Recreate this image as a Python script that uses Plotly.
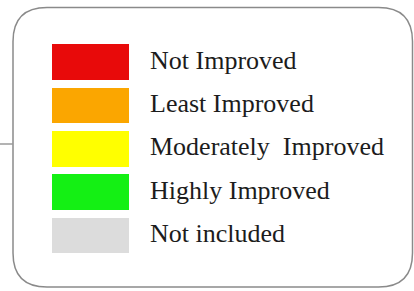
import plotly.graph_objects as go

categories = ["Not Improved", "Least Improved", "Moderately Improved", "Highly Improved", "Not included"]
labels = ["Not Improved", "Least Improved", "Moderately  Improved", "Highly Improved", "Not included"]
colors = ["#E80A0A", "#FBA600", "#FFFF00", "#14F014", "#DCDCDC"]
swatch_len = [1, 1, 1, 1, 1]

W, H = 414, 291
SW_X0, SW_W = 52, 77
TEXT_X = 150
ROW = 43.4
TOP = 62

fig = go.Figure()
fig.add_trace(go.Bar(
    y=list(range(len(categories))), x=[v * SW_W for v in swatch_len], base=SW_X0,
    orientation="h", marker=dict(color=colors, line=dict(width=0)), width=0.82,
    hoverinfo="skip", showlegend=False,
))
fig.add_trace(go.Scatter(
    y=list(range(len(categories))), x=[TEXT_X] * len(categories), mode="text",
    text=labels, textposition="middle right",
    textfont=dict(family="Liberation Serif, Times New Roman, serif", size=26, color="#1c1c1c"),
    hoverinfo="skip", showlegend=False,
))

def px(x):
    return x / W

def py(y):
    return 1 - y / H

L, T, R, B, r = 13, 7.5, 412.5, 287, 34
path = (
    f"M {px(L + r)},{py(T)} L {px(R - r)},{py(T)} Q {px(R)},{py(T)} {px(R)},{py(T + r)} "
    f"L {px(R)},{py(B - r)} Q {px(R)},{py(B)} {px(R - r)},{py(B)} "
    f"L {px(L + r)},{py(B)} Q {px(L)},{py(B)} {px(L)},{py(B - r)} "
    f"L {px(L)},{py(T + r)} Q {px(L)},{py(T)} {px(L + r)},{py(T)} Z"
)
fig.add_shape(type="path", path=path, xref="paper", yref="paper",
              line=dict(color="#8a8a8a", width=1.5), fillcolor="rgba(0,0,0,0)")
fig.add_shape(type="line", xref="paper", yref="paper", x0=0, x1=px(L), y0=py(144), y1=py(144),
              line=dict(color="#9a9a9a", width=1.5))

span = H / ROW
r_top = -TOP / ROW
fig.update_layout(
    width=W, height=H, margin=dict(l=0, r=0, t=0, b=0),
    paper_bgcolor="white", plot_bgcolor="white",
    xaxis=dict(range=[0, W], visible=False, fixedrange=True),
    yaxis=dict(range=[r_top + span, r_top], visible=False, fixedrange=True),
    bargap=0,
)
fig.write_html("out.html", config={"displayModeBar": False},
               post_script="document.body.style.margin='0';document.body.style.overflow='hidden';")
